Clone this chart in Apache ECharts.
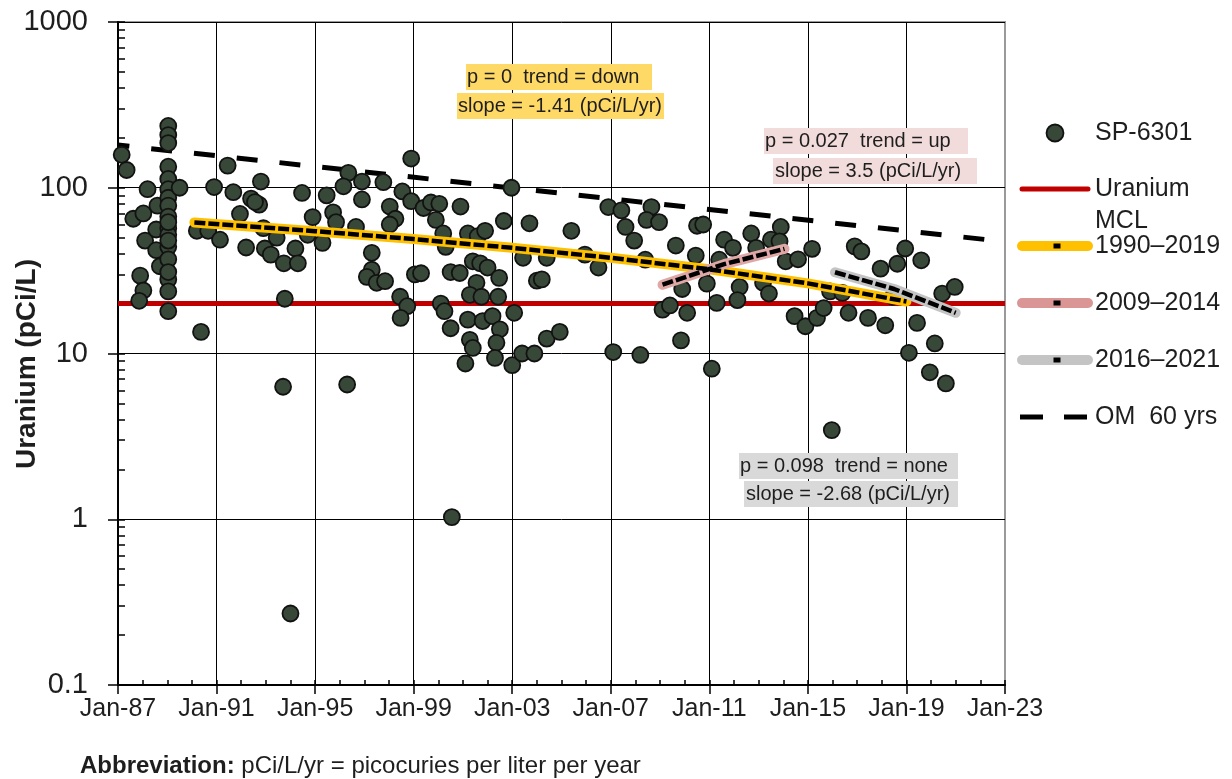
<!DOCTYPE html>
<html>
<head>
<meta charset="utf-8">
<title>SP-6301 Uranium</title>
<script src="https://cdn.jsdelivr.net/npm/echarts@6/dist/echarts.min.js"></script>
<style>
  html, body { margin: 0; padding: 0; background: #fff; }
  #chart { width: 1232px; height: 779px; }
</style>
</head>
<body>
<div id="chart"></div>
<script>
// ---- data ----------------------------------------------------------
const START_YEAR = 1987;
const END_YEAR = 2023;

// Sample dates (decimal years) and uranium concentrations (pCi/L), well SP-6301
const sampleYears = [
  1987.15, 1987.35, 1988.2, 1987.62, 1988.03, 1988.1, 1987.9, 1988.03, 1987.86, 1988.6,
  1988.55, 1988.55, 1988.7,
  1989.04, 1989.04, 1989.04, 1989.04, 1989.04, 1989.04, 1989.04, 1989.04, 1989.04, 1989.04,
  1989.04, 1989.04, 1989.04, 1989.04, 1989.04, 1989.04, 1989.04, 1989.04, 1989.04,
  1989.5, 1990.2, 1990.37, 1990.66, 1990.9, 1991.14, 1991.45, 1991.68, 1991.95, 1992.2,
  1992.4, 1992.8, 1992.73, 1992.56, 1992.9, 1992.96, 1993.2, 1993.44, 1993.73, 1993.77,
  1994.2, 1994.3, 1994.47, 1994.9, 1994.7, 1993.7, 1994.0,
  1998.9, 1996.35, 1996.15, 1996.9, 1996.9, 1997.77, 1995.47, 1995.73, 1995.85, 1995.3,
  1996.66, 1997.3, 1997.3, 1997.1, 1997.5, 1997.84, 1998.03, 1998.26, 1998.03, 1998.54,
  1998.9, 1998.45, 1998.74, 1998.47, 1999.05, 1999.3, 1999.4, 1999.7, 2000.04, 1999.9,
  2000.2, 2000.3, 2000.9, 2000.1, 2000.25, 2000.5, 2000.5, 2000.87, 2001.2, 2001.6,
  2001.9, 2002.66, 2001.4, 2001.7, 2002.0, 2002.47, 2001.55, 2001.28, 2001.75, 2002.43,
  2001.2, 2001.8, 2002.2, 2002.5, 2001.28, 2001.4, 2002.36, 2002.3, 2001.1, 2003.0,
  2003.08, 2002.97, 1996.3, 2000.55,
  2003.7, 2005.4, 2003.44, 2004.4, 2005.95, 2006.5, 2004.0, 2004.2, 2004.4, 2004.93,
  2003.4, 2003.9, 2007.1, 2008.2, 2006.9, 2007.43, 2008.65, 2008.45, 2008.96, 2007.6,
  2007.95, 2008.4, 2009.64, 2010.5, 2010.45, 2009.9, 2010.9, 2009.1, 2009.4, 2010.1,
  2009.85, 2011.1,
  2010.75, 2011.6, 2011.96, 2012.7, 2013.9, 2013.5, 2013.85, 2012.9, 2011.4, 2011.3,
  2012.23, 2012.14, 2013.18, 2013.42, 2014.1, 2014.6, 2015.17, 2014.46, 2014.9, 2015.37,
  2015.64, 2015.9, 2016.4, 2015.97, 2016.9, 2017.17, 2016.65, 2017.44, 2018.14, 2017.95,
  2018.63, 2018.95, 2019.6, 2019.1, 2019.43, 2020.15, 2019.95, 2020.6, 2020.45, 2020.96,
  2018.45
];
const sampleValues = [
  158, 128, 98, 65, 70, 48, 29.5, 24, 20.8, 78,
  56, 42, 33.6,
  236, 208, 186, 134, 113, 98, 87, 78, 67, 57,
  44, 37, 28, 23.7, 18, 52, 48, 62, 31,
  100, 55, 13.5, 55, 101, 48.6, 136, 94, 69.5, 43.6,
  86, 109, 79, 82, 57, 43, 39.5, 50, 35, 21.4,
  43, 35, 93, 66.5, 52, 6.3, 0.27,
  150, 123, 102, 109, 85, 108, 90, 71, 62, 46.5,
  58, 40.5, 32, 29, 26.7, 27.3, 77, 65, 60, 95,
  83, 22, 19.3, 16.4, 30, 30.5, 75.5, 81.5, 80, 64,
  53, 44, 77, 20, 18, 14.2, 31, 30.6, 53, 51,
  55, 63, 36, 35, 33, 28.6, 26.7, 22.6, 22, 22,
  16, 15.7, 16.8, 14, 12.1, 10.8, 11.6, 9.4, 8.7, 8.5,
  17.6, 100, 6.5, 1.03,
  61, 55, 37.8, 37.8, 39.5, 33, 27.5, 28, 12.3, 13.5,
  10, 10, 10.2, 9.8, 76.5, 73, 76.5, 64, 62, 58,
  48, 36.8, 44.8, 59, 39, 24.5, 26.4, 18.4, 19.5, 17.6,
  12, 8.1,
  60, 48.6, 43.4, 53, 58, 48.6, 47.5, 43.4, 36.8, 20.2,
  25.2, 21, 26.7, 23, 36, 37, 42.8, 16.8, 14.6, 16.4,
  18.8, 23.7, 23.2, 3.45, 44.3, 41.3, 17.6, 16.4, 14.8, 32.5,
  34.8, 43, 36.5, 10.1, 15.3, 11.5, 7.7, 6.6, 23, 25.2,
  22
];

// Uranium maximum contaminant level (pCi/L)
const mclValue = 20;

// Trend lines (decimal year, pCi/L)
const trend1990Years  = [1990.1, 1995, 1999, 2003, 2007, 2011, 2015, 2019.0];
const trend1990Values = [61.8, 54.7, 49.0, 43.4, 37.8, 32.2, 26.5, 20.6];
const trend2009Years  = [2009.1, 2011.6, 2014.05];
const trend2009Values = [26.0, 34.6, 42.8];
const trend2016Years  = [2016.1, 2018.5, 2021.0];
const trend2016Values = [30.9, 24.5, 17.6];

// OM 60-year projection
const omYears  = [1987, 2023];
const omValues = [181, 47.3];

// Axis ticks
const xTickStep = 4;
const yMin = 0.1, yMax = 1000;
const yMinorTicks = [];
for (let d = -1; d < 3; d++) {
  for (let m = 1; m <= 9; m++) yMinorTicks.push(+(m * Math.pow(10, d)).toPrecision(3));
}
yMinorTicks.push(1000);

// Annotation and legend text
const trendNotes = [
  { lines: ['p = 0  trend = down', 'slope = -1.41 (pCi/L/yr)'] },
  { lines: ['p = 0.027  trend = up', 'slope = 3.5 (pCi/L/yr)'] },
  { lines: ['p = 0.098  trend = none', 'slope = -2.68 (pCi/L/yr)'] }
];

// ---- styles ----------------------------------------------------------
const FONT = "'Liberation Sans', Arial, sans-serif";
const TXT = '#1e1e1e';
const POINT_FILL = '#384838';
const POINT_EDGE = '#121212';
const RED = '#C00000';
const YELLOW = '#FFC000';
const PINK = '#DFA8A6';
const PINK_KEY = '#D99694';
const GREY = '#C4C4C4';

const toX = (yr) => yr - START_YEAR;
const pairs = (xs, ys) => xs.map((x, i) => [toX(x), ys[i]]);

function trendSeries(name, xs, ys, color) {
  return [
    {
      name: name, type: 'line', data: pairs(xs, ys), showSymbol: false, symbol: 'none',
      z: 5, silent: true,
      lineStyle: { color: color, width: 10, cap: 'round', join: 'round' }
    },
    {
      name: name + ' fit', type: 'line', data: pairs(xs, ys), showSymbol: false, symbol: 'none',
      z: 6, silent: true,
      lineStyle: { color: '#000', width: 4.5, type: [11, 3] }
    }
  ];
}

// ---- annotation boxes & legend (graphic layer) ------------------------
const graphics = [];
function noteBox(x, y, w, h, fill, text, tx) {
  graphics.push({ type: 'rect', z: 20, shape: { x: x, y: y, width: w, height: h }, style: { fill: fill } });
  graphics.push({
    type: 'text', z: 21, x: tx, y: y + h / 2,
    style: {
      text: text, font: '20px ' + FONT, fill: TXT,
      width: x + w - tx, overflow: 'truncate', ellipsis: '',
      align: 'left', verticalAlign: 'middle', textAlign: 'left', textVerticalAlign: 'middle'
    }
  });
}
noteBox(466, 64, 186, 26, '#FFD966', trendNotes[0].lines[0], 467);
noteBox(457, 93, 207, 26, '#FFD966', trendNotes[0].lines[1], 458);
noteBox(764, 128, 204, 26, '#F2DCDB', trendNotes[1].lines[0], 765);
noteBox(773, 158, 204, 26, '#F2DCDB', trendNotes[1].lines[1], 775);
noteBox(739, 453, 219, 26, '#D9D9D9', trendNotes[2].lines[0], 740);
noteBox(744, 481, 214, 26, '#D9D9D9', trendNotes[2].lines[1], 746);

function legendText(y, text) {
  graphics.push({
    type: 'text', x: 1095, y: y,
    style: { text: text, font: '25px ' + FONT, fill: TXT,
      align: 'left', verticalAlign: 'middle', textAlign: 'left', textVerticalAlign: 'middle' }
  });
}
function legendBar(y, color) {
  graphics.push({ type: 'line', shape: { x1: 1022, y1: y, x2: 1088, y2: y },
    style: { stroke: color, lineWidth: 10, lineCap: 'round' } });
  graphics.push({ type: 'rect', shape: { x: 1053.5, y: y - 2.5, width: 7, height: 5 }, style: { fill: '#000' } });
}
graphics.push({ type: 'circle', shape: { cx: 1055, cy: 133, r: 8.5 },
  style: { fill: POINT_FILL, stroke: POINT_EDGE, lineWidth: 1.8 } });
legendText(133, 'SP-6301');
graphics.push({ type: 'line', shape: { x1: 1022, y1: 189, x2: 1088, y2: 189 },
  style: { stroke: RED, lineWidth: 5, lineCap: 'round' } });
legendText(189, 'Uranium');
legendText(221, 'MCL');
legendBar(246, YELLOW);
legendText(246, '1990\u20132019');
legendBar(303, PINK_KEY);
legendText(303, '2009\u20132014');
legendBar(360, GREY);
legendText(360, '2016\u20132021');
graphics.push({ type: 'line', shape: { x1: 1020, y1: 417, x2: 1043, y2: 417 }, style: { stroke: '#000', lineWidth: 5 } });
graphics.push({ type: 'line', shape: { x1: 1064, y1: 417, x2: 1087, y2: 417 }, style: { stroke: '#000', lineWidth: 5 } });
legendText(417, 'OM  60 yrs');

// axis title and footnote
graphics.push({
  type: 'text', x: 27, y: 364, rotation: Math.PI / 2,
  style: { text: 'Uranium (pCi/L)', font: 'bold 28px ' + FONT, fill: TXT,
    align: 'center', verticalAlign: 'middle', textAlign: 'center', textVerticalAlign: 'middle' }
});
graphics.push({
  type: 'text', x: 80, y: 766,
  style: {
    text: '{b|Abbreviation:} pCi/L/yr = picocuries per liter per year',
    font: '24px ' + FONT, fill: TXT,
    align: 'left', verticalAlign: 'middle', textAlign: 'left', textVerticalAlign: 'middle',
    rich: { b: { fontWeight: 'bold', fontSize: 24, fontFamily: FONT, fill: TXT, color: TXT } }
  }
});

// ---- chart ------------------------------------------------------------
const span = END_YEAR - START_YEAR;
const vLineColors = [];
for (let i = 0; i <= span / xTickStep; i++) vLineColors.push(i === span / xTickStep ? '#9a9a9a' : '#000');

const option = {
  animation: false,
  backgroundColor: '#fff',
  grid: { left: 118, right: 227, top: 22, bottom: 94, show: true, borderColor: '#9a9a9a', borderWidth: 2 },
  xAxis: [
    {
      type: 'value', min: 0, max: span, interval: xTickStep,
      axisLine: { show: true, onZero: false, lineStyle: { color: '#000', width: 2 } },
      axisTick: { show: true, inside: false, length: 9, lineStyle: { color: '#000', width: 1.5 } },
      splitLine: { show: true, lineStyle: { color: vLineColors, width: 1 } },
      axisLabel: {
        fontSize: 25, fontFamily: FONT, color: TXT, margin: 12,
        formatter: (v) => 'Jan-' + String((START_YEAR + Math.round(v)) % 100).padStart(2, '0')
      }
    },
    {
      type: 'value', min: 0, max: span, interval: xTickStep, position: 'bottom',
      axisLine: { show: false },
      axisLabel: { show: false },
      splitLine: { show: false },
      axisTick: { show: true, inside: true, length: 5, lineStyle: { color: '#000', width: 1.5 } },
      minorTick: { show: true, splitNumber: 4, length: 5, lineStyle: { color: '#000', width: 1.5 } }
    }
  ],
  yAxis: [
    {
      type: 'log', logBase: 10, min: yMin, max: yMax, interval: 1,
      axisLine: { show: true, onZero: false, lineStyle: { color: '#000', width: 2 } },
      axisTick: { show: true, inside: false, length: 10, lineStyle: { color: '#000', width: 1.5 } },
      splitLine: { show: true, lineStyle: { color: '#000', width: 1 } },
      axisLabel: {
        fontSize: 29, fontFamily: FONT, color: TXT, margin: 30,
        formatter: (v) => String(+Number(v).toPrecision(6))
      }
    },
    {
      type: 'log', logBase: 10, min: yMin, max: yMax, position: 'left',
      axisLine: { show: false },
      axisLabel: { show: false },
      splitLine: { show: false },
      axisTick: { show: true, inside: true, length: 7, customValues: yMinorTicks,
        lineStyle: { color: '#000', width: 1.5 } }
    }
  ],
  series: [
    {
      name: 'Uranium MCL', type: 'line', z: 2, silent: true, showSymbol: false, symbol: 'none',
      data: [[0, mclValue], [span, mclValue]],
      lineStyle: { color: RED, width: 5 }
    },
    {
      name: 'OM  60 yrs', type: 'line', z: 3, silent: true, showSymbol: false, symbol: 'none',
      data: pairs(omYears, omValues),
      lineStyle: { color: '#000', width: 5, type: [21, 22], dashOffset: 9.6 }
    },
    {
      name: 'SP-6301', type: 'scatter', z: 4, silent: true,
      data: pairs(sampleYears, sampleValues),
      symbol: 'circle', symbolSize: 16,
      itemStyle: { color: POINT_FILL, borderColor: POINT_EDGE, borderWidth: 1.8, opacity: 1 }
    },
    ...trendSeries('1990\u20132019', trend1990Years, trend1990Values, YELLOW),
    ...trendSeries('2009\u20132014', trend2009Years, trend2009Values, PINK),
    ...trendSeries('2016\u20132021', trend2016Years, trend2016Values, GREY)
  ],
  graphic: graphics
};

const chart = echarts.init(document.getElementById('chart'), null, { renderer: 'canvas' });
chart.setOption(option);
</script>
</body>
</html>
